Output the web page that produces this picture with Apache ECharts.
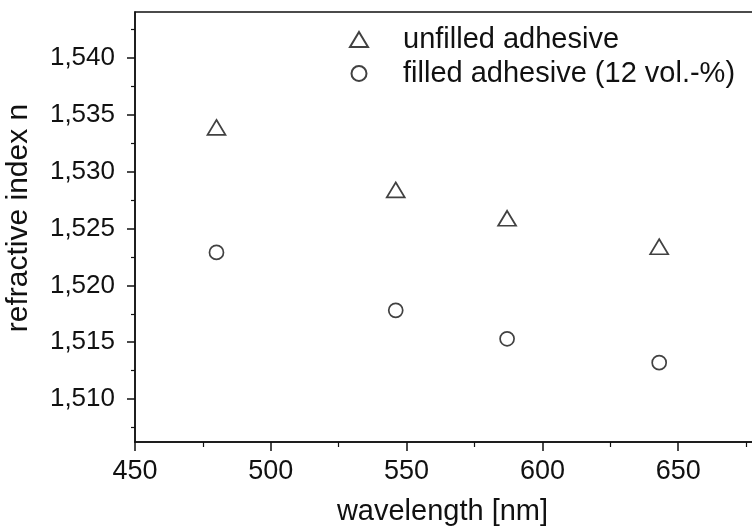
<!DOCTYPE html>
<html>
<head>
<meta charset="UTF-8">
<script src="https://cdn.jsdelivr.net/npm/echarts@6/dist/echarts.min.js"></script>
<style>
  html, body { margin: 0; padding: 0; background: #fff; }
  #chart { width: 752px; height: 532px; }
</style>
</head>
<body>
<div id="chart"></div>
<script>
  // values
  const wavelengths = [480, 546, 587, 643];
  const unfilled = [1.5339, 1.5284, 1.5259, 1.5234];
  const filled = [1.5229, 1.5178, 1.5153, 1.5132];
  const yMajor = [1.510, 1.515, 1.520, 1.525, 1.530, 1.535, 1.540];
  const yMinor = [1.5075, 1.5125, 1.5175, 1.5225, 1.5275, 1.5325, 1.5375, 1.5425];

  const ink = '#111';
  const font = 'Liberation Sans';

  let chart = echarts.init(document.getElementById('chart'));

  let pts = (ys) => wavelengths.map((w, i) => [w, ys[i]]);

  let option = {
    animation: false,
    backgroundColor: '#fff',
    grid: {
      left: 135, top: 12, bottom: 90, right: -62,
      outerBoundsMode: 'none',
      containLabel: false,
      show: true, borderColor: ink, borderWidth: 1.5, backgroundColor: 'transparent'
    },
    legend: {
      orient: 'vertical',
      left: 344, top: 20,
      itemWidth: 18, itemHeight: 15, itemGap: 5,
      textStyle: { fontFamily: font, fontSize: 29, color: ink, lineHeight: 28, padding: [0, 0, 0, 30] },
      data: ['unfilled adhesive', 'filled adhesive (12 vol.-%)']
    },
    xAxis: {
      type: 'value', min: 450, max: 700, interval: 50,
      name: 'wavelength [nm]', nameLocation: 'middle', nameGap: 55,
      nameTextStyle: { fontFamily: font, fontSize: 29, color: ink, padding: [0, 64, 0, 0] },
      axisLine: { lineStyle: { color: ink, width: 1.5 } },
      axisTick: { inside: false, length: 9, lineStyle: { color: ink, width: 1.5 } },
      minorTick: { show: true, splitNumber: 2, length: 5, lineStyle: { color: ink, width: 1.2 } },
      axisLabel: { fontFamily: font, fontSize: 27, color: ink, margin: 16 },
      splitLine: { show: false }
    },
    yAxis: [{
      type: 'value', min: 1.50622, max: 1.54405,
      name: 'refractive index n', nameLocation: 'middle', nameGap: 101,
      nameTextStyle: { fontFamily: font, fontSize: 30, color: ink, padding: [0, 0, 0, 18] },
      axisLine: { lineStyle: { color: ink, width: 1.5 } },
      axisTick: { length: 8, customValues: yMajor, lineStyle: { color: ink, width: 1.5 } },
      axisLabel: {
        fontFamily: font, fontSize: 26, color: ink, margin: 20,
        customValues: yMajor,
        formatter: (v) => v.toFixed(3).replace('.', ',')
      },
      splitLine: { show: false }
    }, {
      type: 'value', position: 'left', min: 1.50622, max: 1.54405,
      axisLine: { show: false },
      axisTick: { show: true, length: 4, customValues: yMinor, lineStyle: { color: ink, width: 1.2 } },
      axisLabel: { show: false },
      splitLine: { show: false }
    }],
    series: [{
      name: 'unfilled adhesive',
      type: 'scatter',
      symbol: 'triangle',
      symbolSize: [18, 15],
      itemStyle: { color: '#fff', borderColor: ink, borderWidth: 1.7 },
      data: pts(unfilled)
    }, {
      name: 'filled adhesive (12 vol.-%)',
      type: 'scatter',
      symbol: 'circle',
      symbolSize: 14,
      itemStyle: { color: '#fff', borderColor: ink, borderWidth: 1.7 },
      data: pts(filled)
    }]
  };

  chart.setOption(option);
</script>
</body>
</html>
